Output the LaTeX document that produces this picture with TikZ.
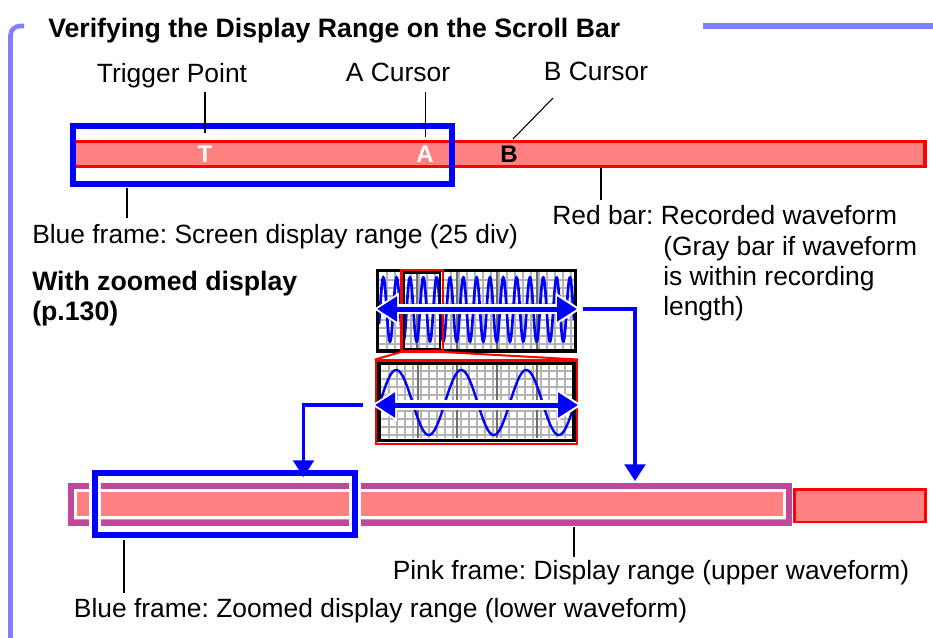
\documentclass[tikz,border=0pt]{standalone}
\usepackage{fontspec}
\setmainfont{Liberation Sans}
\usetikzlibrary{arrows.meta}
\usepackage{xcolor}

\definecolor{titlebar}{RGB}{128,128,255}
\definecolor{salmon}{RGB}{255,128,128}
\definecolor{pinkframe}{RGB}{192,71,155}
\definecolor{gridlight}{RGB}{180,180,180}
\definecolor{griddark}{RGB}{110,110,110}

\tikzset{
  txt/.style={font=\fontsize{19.8}{22.5}\selectfont, inner sep=0pt},
  txtbold/.style={font=\fontsize{20}{22.5}\selectfont\bfseries, inner sep=0pt},
  barletter/.style={font=\fontsize{18}{20}\selectfont\bfseries, inner sep=0pt, anchor=base},
  leader/.style={line width=0.8pt},
  bluelink/.style={draw=blue, line width=2.5pt, -{Triangle[length=12.5pt,width=15.5pt]}},
  halo/.style={white, line width=7pt, {Triangle[length=19pt,width=23pt]}-{Triangle[length=19pt,width=23pt]}},
  span/.style={blue, line width=3.75pt, {Triangle[length=15pt,width=18pt]}-{Triangle[length=15pt,width=18pt]}}
}

\begin{document}
\frenchspacing
\begin{tikzpicture}[x=0.75pt,y=-0.75pt]
\useasboundingbox (0,0) rectangle (933,637);
% title frame
\draw[titlebar, line width=3.4pt, rounded corners=7pt] (24,26) -- (10.5,26) -- (10.5,645);
\draw[titlebar, line width=3.8pt] (703,26) -- (940,26);
\node[txtbold, anchor=base west] (title) at (48,37) {Verifying the Display Range on the Scroll Bar};

% recorded waveform (red bar)
\filldraw[fill=salmon, draw=red, line width=2.4pt] (72,141.5) rectangle (925,166.5);
% screen display range (blue frame)
\draw[blue, line width=4.2pt] (73,126) rectangle (452,184);
\node[barletter, white] (tpt) at (205,162) {T};
\node[barletter, white] (acur) at (425,162) {A};
\node[barletter] (bcur) at (509,162) {B};

% labels above the bar
\node[txt, anchor=base] (triglbl) at (172,82) {Trigger Point};
\node[txt, anchor=base] (acurlbl) at (398,81) {A Cursor};
\node[txt, anchor=base] (bcurlbl) at (596,80) {B Cursor};
\coordinate (trigtop) at (205,92);
\coordinate (trigbot) at (205,133);
\coordinate (acurtop) at (425.5,92);
\coordinate (acurbot) at (425.5,137);
\coordinate (bcurtop) at (553,98);
\coordinate (bcurbot) at (513,139);
\draw[leader] (trigtop) -- (trigbot);
\draw[leader] (acurtop) -- (acurbot);
\draw[leader] (bcurtop) -- (bcurbot);

% labels below the bar
\coordinate (scrtop) at (127,188);
\coordinate (scrbot) at (127,218);
\coordinate (redtop) at (601,168);
\coordinate (redbot) at (601,200);
\draw[leader] (scrtop) -- (scrbot);
\draw[leader] (redtop) -- (redbot);
\node[txt, anchor=base west] (scrlbl) at (32,243) {Blue frame: Screen display range (25 div)};
\node[txt, anchor=base west] (redlbl) at (552,224) {Red bar: Recorded waveform};
\node[txt, anchor=base west] (graylbla) at (663,255) {(Gray bar if waveform};
\node[txt, anchor=base west] (graylblb) at (663,285) {is within recording};
\node[txt, anchor=base west] (graylblc) at (663,315) {length)};
\node[txtbold, anchor=base west] (zoomlbla) at (32,290) {With zoomed display};
\node[txtbold, anchor=base west] (zoomlblb) at (32,320) {(p.130)};

% upper waveform
\foreach \gx in {387,395,...,571} \draw[gridlight, line width=1.2pt] (\gx,272) -- (\gx,349);
\foreach \gy in {280,288,...,344} \draw[gridlight, line width=1.2pt] (379,\gy) -- (574,\gy);
\foreach \gx in {417,457,497,537} \draw[griddark, line width=1.2pt] (\gx,272) -- (\gx,349);
\draw[blue, line width=2pt, domain=379:574, samples=500, smooth] plot (\x,{309.5-32*sin(27.007*(\x-380))});
\draw[line width=2.5pt] (377.7,270.7) rectangle (575.7,351);
% part that is zoomed
\draw[red, line width=1.9pt] (401.3,270) rectangle (442.8,351.5);
\draw[line width=2.2pt] (404,273) rectangle (440,349);
\coordinate (hlL) at (401,352);
\coordinate (hlR) at (443,352);
\coordinate (zbL) at (375,359.5);
\coordinate (zbR) at (578,359.5);
\draw[red, line width=1.5pt] (hlL) -- (zbL);
\draw[red, line width=1.5pt] (hlR) -- (zbR);

% lower waveform (zoomed)
\foreach \gx in {389,397,...,565} \draw[gridlight, line width=1.2pt] (\gx,365) -- (\gx,438);
\foreach \gy in {371,379,...,435} \draw[gridlight, line width=1.2pt] (381,\gy) -- (572,\gy);
\foreach \gx in {418,457,497,537} \draw[griddark, line width=1.2pt] (\gx,365) -- (\gx,438);
\draw[blue, line width=1.8pt, domain=381:572, samples=200, smooth] plot (\x,{402.5-32.5*sin(5.538*(\x-380))});
\draw[red, line width=1.7pt] (376.2,360.5) rectangle (577.2,444.2);
\draw[line width=2.6pt] (379,363.5) rectangle (573.8,440.5);

% double arrows
\draw[halo] (373.5,309) -- (581,309);
\draw[span] (377,309) -- (577,309);
\draw[halo] (371.5,405) -- (582,405);
\draw[span] (375,405) -- (578,405);

% lower bar
\filldraw[fill=salmon, draw=red, line width=2pt] (794.5,489.5) rectangle (925.5,522);
\fill[salmon] (68,483) rectangle (792,526);
\draw[pinkframe, line width=4.6pt] (71,486) rectangle (789,523);
\draw[white, line width=1.8pt] (75.5,490.5) rectangle (784.5,517.5);
\draw[white, line width=9.4pt] (95,473) rectangle (355,535);
\draw[blue, line width=4.3pt] (95,473) rectangle (355,535);

% links to the lower bar
\coordinate (upspanR) at (583,309);
\coordinate (pinktop) at (635,481);
\coordinate (lowspanL) at (363,405);
\coordinate (bluetop) at (303.5,477);
\draw[bluelink] (upspanR) -| (pinktop);
\draw[bluelink] (lowspanL) -| (bluetop);

% labels under the lower bar
\coordinate (pinkldtop) at (574,527);
\coordinate (pinkldbot) at (574,557);
\coordinate (zblldtop) at (124,540);
\coordinate (zblldbot) at (124,593);
\draw[leader] (pinkldtop) -- (pinkldbot);
\draw[leader] (zblldtop) -- (zblldbot);
\node[txt, anchor=base west] (pinklbl) at (392.5,579) {Pink frame: Display range (upper waveform)};
\node[txt, anchor=base west] (zbllbl) at (73.7,617) {Blue frame: Zoomed display range (lower waveform)};
\end{tikzpicture}
\end{document}
